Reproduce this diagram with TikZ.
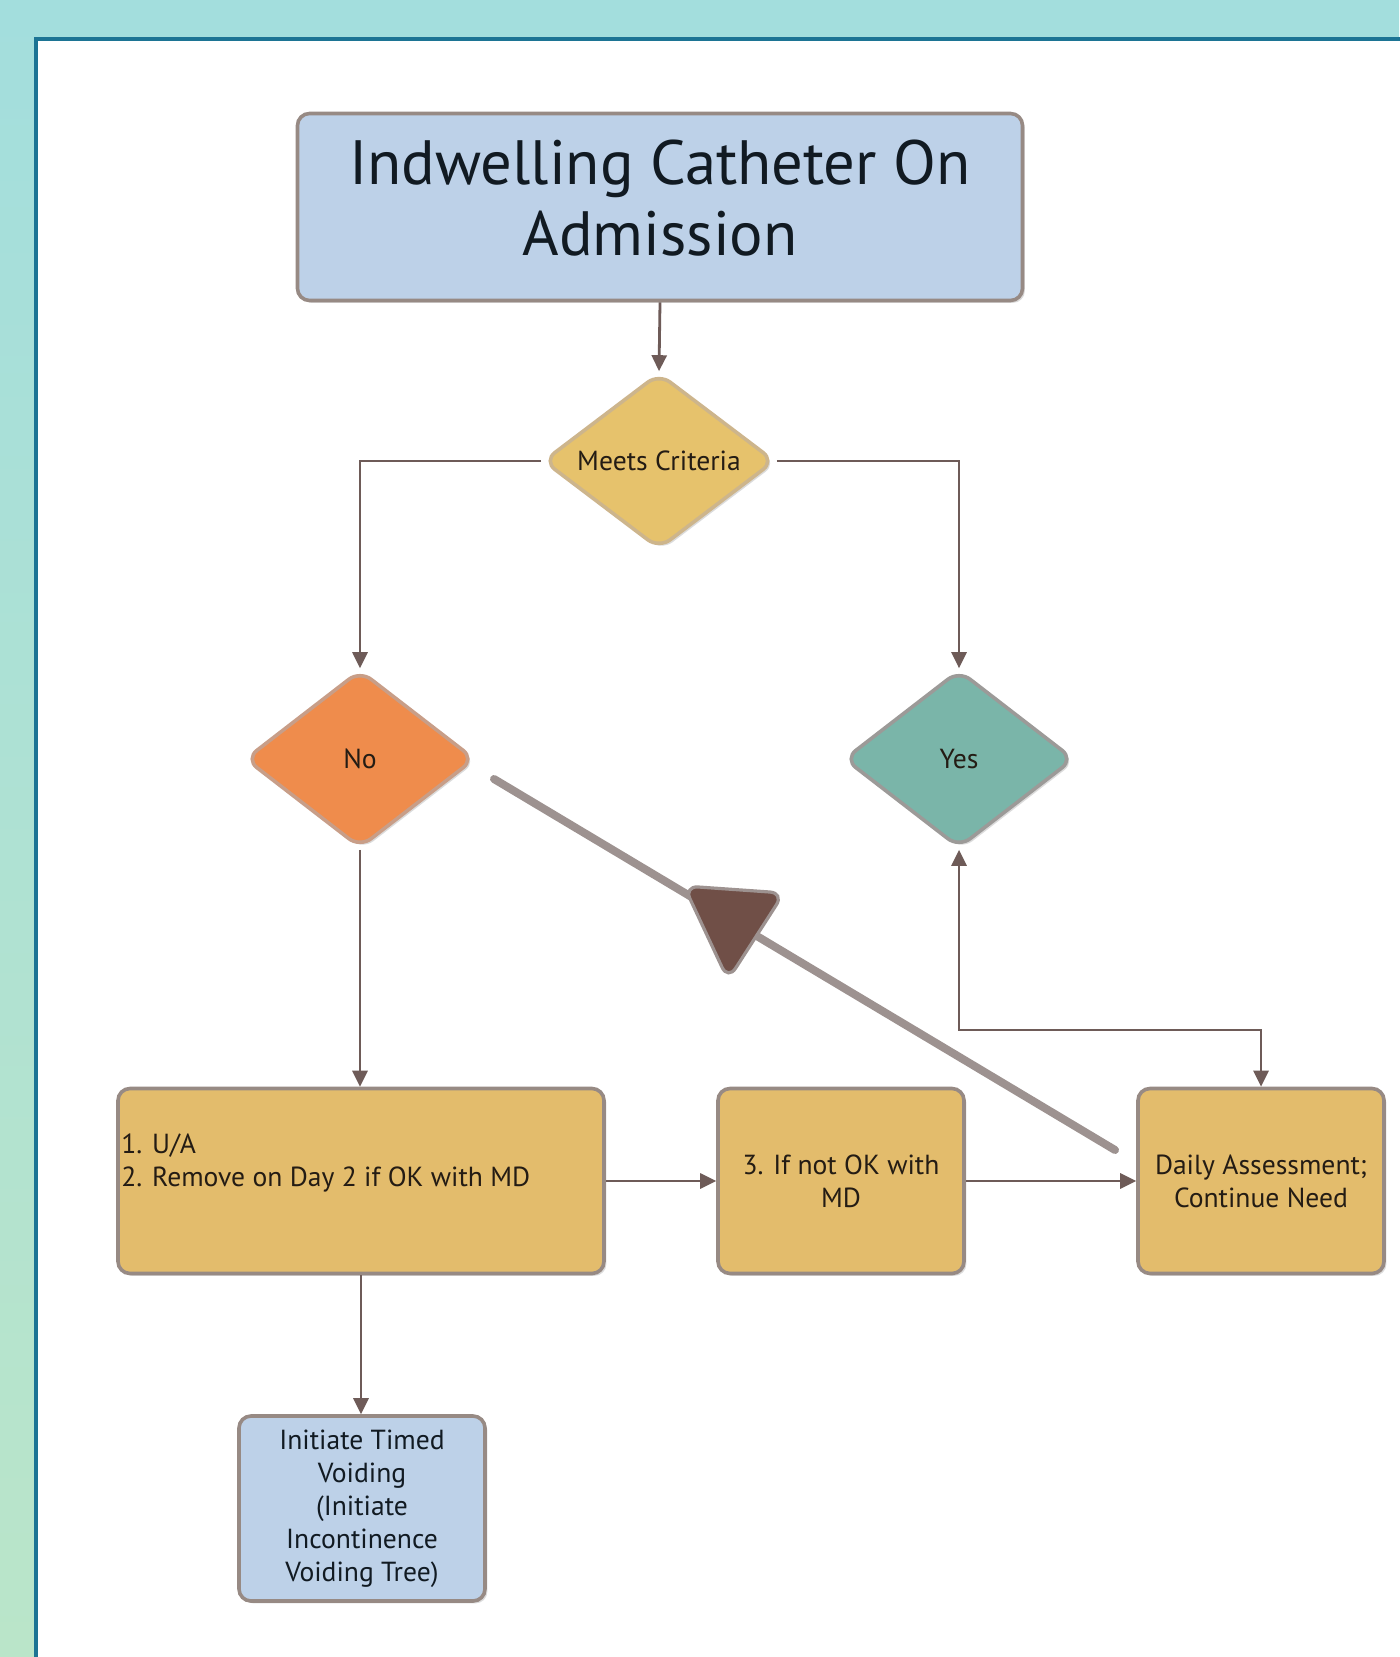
\documentclass[tikz,border=0pt]{standalone}
\usepackage{fontspec}
\setmainfont{PT Sans}
\usetikzlibrary{shapes.geometric,arrows.meta,shadows}
\definecolor{bgtop}{HTML}{A3DEDD}
\definecolor{bgbot}{HTML}{BAE5C9}
\definecolor{panelline}{HTML}{1C7494}
\definecolor{boxgold}{HTML}{E3BC6C}
\definecolor{boxline}{HTML}{978A84}
\definecolor{lightblue}{HTML}{BDD1E8}
\definecolor{meetsfill}{HTML}{E6C26C}
\definecolor{meetsline}{HTML}{CDB58C}
\definecolor{nofill}{HTML}{EF8C4C}
\definecolor{noline}{HTML}{C89E88}
\definecolor{yesfill}{HTML}{7AB5A9}
\definecolor{yesline}{HTML}{9C9A98}
\definecolor{arrowcol}{HTML}{6E5B58}
\definecolor{bigline}{HTML}{9D9290}
\definecolor{bigtip}{HTML}{704F47}
\definecolor{txt}{HTML}{241C14}
\definecolor{titletxt}{HTML}{111A22}
\tikzset{
  shad/.style={drop shadow={opacity=0.28,shadow xshift=1.2pt,shadow yshift=-1.2pt}},
  flowbox/.style={draw=boxline, line width=1.8pt, rounded corners=6pt, fill=boxgold,
    minimum width=123pt, minimum height=92.5pt, inner sep=0pt, align=center,
    text=txt, font=\fontsize{13.8}{16.5}\selectfont, shad},
  bluebox/.style={flowbox, fill=lightblue, text=titletxt},
  decision/.style={diamond, aspect=1.318, minimum width=116pt, minimum height=88pt,
    inner sep=0pt, line width=1.8pt, rounded corners=7pt, text=txt,
    font=\fontsize{13.8}{16.5}\selectfont, shad},
  arr/.style={draw=arrowcol, line width=1.4pt, -{Triangle[length=8pt,width=7.5pt]}},
  arrboth/.style={draw=arrowcol, line width=1.4pt,
    {Triangle[length=8pt,width=7.5pt]}-{Triangle[length=8pt,width=7.5pt]}},
  thickline/.style={draw=bigline, line width=4pt, line cap=round}
}
\begin{document}
\begin{tikzpicture}[x=0.5pt,y=-0.5pt]
\useasboundingbox (0,0) rectangle (1399,1657);
% background
\shade[top color=bgtop, bottom color=bgbot] (0,0) rectangle (1399,1657);
\fill[bgtop] (0,0) rectangle (1399,37);
\draw[draw=panelline, line width=2pt, fill=white] (36,39) rectangle (1420,1680);

% nodes
\node[bluebox, minimum width=362.5pt, minimum height=93.5pt,
      font=\fontsize{31.3}{35.5}\selectfont] (title) at (660,207)
      {Indwelling Catheter On\\Admission\rule[-9pt]{0pt}{1pt}};
\node[decision, fill=meetsfill, draw=meetsline] (meets) at (659,461) {Meets Criteria};
\node[decision, fill=nofill, draw=noline, minimum width=115pt, minimum height=89pt] (no) at (360,759) {No};
\node[decision, fill=yesfill, draw=yesline, minimum width=115pt, minimum height=89pt] (yes) at (959,759) {Yes};
\node[flowbox, minimum width=243pt] (box1) at (361,1181) {};
\node[anchor=west, align=left, text=txt, inner sep=0pt,
      font=\fontsize{13.8}{16.5}\selectfont] (box1txt) at (121,1163) {1. U/A\\2. Remove on Day 2 if OK with MD};
\node[flowbox] (box2) at (841,1181) {3. If not OK with\\MD};
\node[flowbox] (box3) at (1261,1181) {Daily Assessment;\\Continue Need};
\node[bluebox] (timed) at (362,1508.5)
  {Initiate Timed\\Voiding\\(Initiate\\Incontinence\\Voiding Tree)};

% connectors
\draw[arr] (title.south) -- (meets.north);
\draw[arr] (meets.west) -| (no.north);
\draw[arr] (meets.east) -| (yes.north);
\draw[arr] (no.south) -- (no.south |- box1.north);
\draw[arr] (box1.east) -- (box2.west);
\draw[arr] (box2.east) -- (box3.west);
\coordinate (turn) at (959,1030);
\draw[arrboth] (yes.south) -- (turn) -| (box3.north);
\draw[arr] (box1.south) -- (box1.south |- timed.north);

% thick diagonal connector with big triangular head
\coordinate (dstart) at (494,779);
\coordinate (dend) at (1115,1150);
\draw[thickline] (dstart) -- (dend);
\draw[draw=bigline, line width=1.6pt, fill=bigtip, rounded corners=7pt]
  (684,886) -- (784,893) -- (728,980) -- cycle;
\end{tikzpicture}
\end{document}
